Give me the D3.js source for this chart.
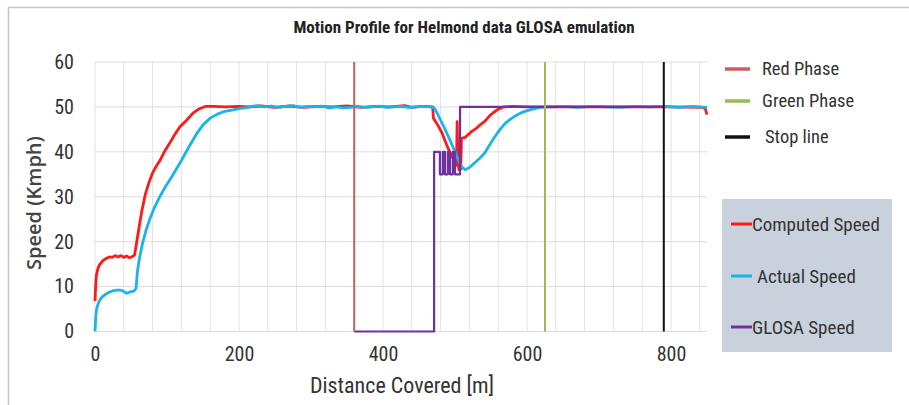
<!DOCTYPE html>
<html>
<head>
<meta charset="utf-8">
<script src="https://cdn.jsdelivr.net/npm/d3@7"></script>
<style>
  body { margin: 0; background: #fff; }
  svg { display: block; }
  .narrow { font-family: "Liberation Sans Narrow", "Arial Narrow", "Roboto Condensed", sans-serif; }
</style>
</head>
<body>
<svg id="chart" width="909" height="405"></svg>
<script>
// Computed speed (red)
const computedDist = [0, 1, 2, 4, 6, 9, 12, 16, 20, 24, 28, 32, 36, 40, 44, 48, 52, 55, 58, 61, 65, 70, 75, 80, 85, 90, 97, 104, 111, 118, 127, 136, 145, 153, 165, 180, 200, 215, 230, 250, 270, 290, 310, 330, 350, 370, 390, 410, 430, 440, 455, 469, 470, 476, 482, 488.5, 495, 502, 503, 504, 505.5, 508, 509, 514, 518, 523, 530, 535, 542, 548, 553, 560, 567, 580, 600, 650, 700, 750, 800, 845, 848, 850];
const computedSpeed = [6.8, 10.5, 12.6, 14.0, 14.8, 15.4, 15.9, 16.3, 16.6, 16.5, 16.9, 16.6, 16.9, 16.5, 16.8, 16.4, 16.7, 17.0, 20.0, 23.0, 26.8, 30.6, 33.2, 35.3, 36.8, 38.0, 40.2, 42.0, 43.9, 45.6, 47.0, 48.6, 49.6, 50.1, 50.1, 50.0, 50.1, 50.0, 50.2, 49.9, 50.2, 49.9, 50.1, 50.0, 50.2, 49.9, 50.1, 50.0, 50.3, 49.9, 50.1, 50.0, 47.5, 46.0, 44.2, 41.5, 39.2, 37.0, 46.7, 38.0, 36.0, 36.2, 43.0, 43.2, 43.8, 44.5, 45.3, 46.0, 46.9, 48.0, 48.7, 49.5, 50.0, 50.1, 50.0, 50.0, 50.0, 50.0, 50.0, 49.9, 49.4, 48.3];

// Actual speed (blue)
const actualDist = [0, 1, 2, 4, 7, 10, 14, 18, 22, 26, 30, 34, 38, 41, 44, 47, 50, 54, 57, 59, 62, 66, 71, 76, 82, 90, 98, 106, 118, 128, 141, 150, 160, 170, 180, 190, 200, 212, 225, 235, 245, 255, 265, 275, 285, 295, 305, 315, 325, 335, 345, 355, 365, 375, 385, 395, 405, 415, 425, 435, 445, 455, 465, 471, 476, 481, 486, 491, 496, 500, 505, 509, 514, 520, 527, 534, 541, 548, 555, 562, 570, 578, 586, 595, 605, 618, 630, 650, 670, 690, 710, 730, 750, 770, 790, 810, 830, 850];
const actualSpeed = [0, 3.2, 4.8, 6.0, 7.1, 7.7, 8.2, 8.6, 8.9, 9.1, 9.2, 9.2, 9.1, 8.8, 8.5, 8.7, 8.9, 9.0, 9.6, 13.5, 16.5, 19.6, 22.6, 25.0, 27.4, 30.0, 32.3, 34.3, 37.5, 40.4, 44.0, 46.0, 47.5, 48.4, 49.0, 49.3, 49.6, 49.9, 50.3, 50.0, 50.2, 49.9, 50.1, 50.3, 49.9, 50.1, 50.0, 50.2, 49.8, 50.0, 49.8, 49.9, 50.1, 49.9, 50.0, 50.2, 49.9, 50.0, 50.1, 49.9, 50.0, 50.1, 50.0, 49.8, 48.4, 46.7, 45.1, 43.3, 41.5, 40.0, 38.1, 36.7, 36.0, 36.5, 37.5, 38.5, 39.7, 41.5, 43.3, 44.9, 46.4, 47.4, 48.2, 48.9, 49.4, 49.9, 50.0, 50.1, 49.9, 50.1, 50.0, 49.9, 50.1, 50.0, 50.1, 49.9, 50.1, 49.9];

// GLOSA advised speed (purple)
const glosaDist = [360, 471, 471, 479, 479, 483, 483, 486, 486, 490, 490, 493, 493, 497, 497, 500, 500, 507, 507, 790];
const glosaSpeed = [0, 0, 40, 40, 35, 35, 40, 40, 35, 35, 40, 40, 35, 35, 40, 40, 35, 35, 50, 50];

// vertical markers
const phaseNames = ["Red Phase", "Green Phase", "Stop line"];
const phaseDist = [360, 625, 790];
const phaseColors = ["#c9605d", "#9bbb59", "#111111"];

const speedNames = ["Computed Speed", "Actual Speed", "GLOSA Speed"];
const speedColors = ["#ff1a1a", "#19b4ec", "#7030a0"];

const xTicks = [0, 200, 400, 600, 800];
const yTicks = [0, 10, 20, 30, 40, 50, 60];

const svg = d3.select("#chart"),
    margin = { top: 62, right: 202, bottom: 73.5, left: 95 },
    width = +svg.attr("width") - margin.left - margin.right,
    height = +svg.attr("height") - margin.top - margin.bottom;

// outer frame (left and top edges are visible)
svg.append("path")
    .attr("d", "M8.5,405V7.5H909")
    .attr("fill", "none")
    .attr("stroke", "#c4c4c4")
    .attr("stroke-width", 1.5);

svg.append("text")
    .attr("class", "narrow")
    .attr("x", 464)
    .attr("y", 33)
    .attr("text-anchor", "middle")
    .style("font-size", "17px")
    .style("font-weight", "bold")
    .style("fill", "#222")
    .text("Motion Profile for Helmond data GLOSA emulation");

const g = svg.append("g")
    .attr("transform", `translate(${margin.left},${margin.top})`);

const x = d3.scaleLinear().domain([0, 850]).range([0, width]);
const y = d3.scaleLinear().domain([0, 60]).range([height, 0]);

// gridlines
g.append("g")
    .selectAll("line")
    .data(d3.range(0, 851, 40))
    .enter().append("line")
    .attr("x1", d => x(d)).attr("x2", d => x(d))
    .attr("y1", 0).attr("y2", height)
    .attr("stroke", "#e3e3e3");

g.append("g")
    .selectAll("line")
    .data(yTicks)
    .enter().append("line")
    .attr("x1", 0).attr("x2", width)
    .attr("y1", d => y(d)).attr("y2", d => y(d))
    .attr("stroke", "#dcdcdc");

// axes (labels only, Excel style)
const xAxis = g.append("g")
    .attr("transform", `translate(0,${height})`)
    .call(d3.axisBottom(x).tickValues(xTicks).tickSize(0).tickPadding(15));
xAxis.select(".domain").remove();
xAxis.selectAll("text")
    .attr("class", "narrow")
    .style("font-size", "20px")
    .style("fill", "#333");

const yAxis = g.append("g")
    .call(d3.axisLeft(y).tickValues(yTicks).tickSize(0).tickPadding(21));
yAxis.select(".domain").remove();
yAxis.selectAll("text")
    .attr("class", "narrow")
    .style("font-size", "20px")
    .style("fill", "#333");

svg.append("text")
    .attr("class", "narrow")
    .attr("x", 402)
    .attr("y", 393)
    .attr("text-anchor", "middle")
    .style("font-size", "22px")
    .style("fill", "#333")
    .text("Distance Covered [m]");

svg.append("text")
    .attr("transform", "translate(41,203) rotate(-90)")
    .attr("text-anchor", "middle")
    .style("font-family", "'Open Sans', sans-serif")
    .style("font-size", "20px")
    .style("font-weight", "600")
    .style("fill", "#444")
    .text("Speed (Kmph)");

// speed series
const line = d3.line()
    .x(d => x(d[0]))
    .y(d => y(d[1]));

const series = [
    { dist: computedDist, speed: computedSpeed, width: 2.8 },
    { dist: actualDist, speed: actualSpeed, width: 2.8 },
    { dist: glosaDist, speed: glosaSpeed, width: 2.2 }
];

series.forEach((s, i) => {
    g.append("path")
        .datum(s.dist.map((d, j) => [d, s.speed[j]]))
        .attr("d", line)
        .attr("fill", "none")
        .attr("stroke", speedColors[i])
        .attr("stroke-width", s.width)
        .attr("stroke-linejoin", "round");
});

// phase markers
g.selectAll(".phase")
    .data(phaseDist)
    .enter().append("line")
    .attr("class", "phase")
    .attr("x1", d => x(d)).attr("x2", d => x(d))
    .attr("y1", y(0)).attr("y2", y(60))
    .attr("stroke", (d, i) => phaseColors[i])
    .attr("stroke-width", 2);

// legend: phases
const phaseLegendY = [69, 101, 137];
const phaseTextX = [762, 762, 765];
phaseNames.forEach((name, i) => {
    svg.append("line")
        .attr("x1", 725).attr("x2", 750)
        .attr("y1", phaseLegendY[i]).attr("y2", phaseLegendY[i])
        .attr("stroke", phaseColors[i])
        .attr("stroke-width", 3.5);
    svg.append("text")
        .attr("class", "narrow")
        .attr("x", phaseTextX[i])
        .attr("y", phaseLegendY[i])
        .attr("dy", "0.35em")
        .style("font-size", "18.5px")
        .style("fill", "#333")
        .text(name);
});

// legend: speeds in shaded box
svg.append("rect")
    .attr("x", 722).attr("y", 199)
    .attr("width", 170).attr("height", 153)
    .attr("fill", "#c9d1dd");

const speedLegendY = [224, 276, 327];
const speedTextX = [752, 757, 752];
speedNames.forEach((name, i) => {
    svg.append("line")
        .attr("x1", 731).attr("x2", 752)
        .attr("y1", speedLegendY[i]).attr("y2", speedLegendY[i])
        .attr("stroke", speedColors[i])
        .attr("stroke-width", 3);
    svg.append("text")
        .attr("class", "narrow")
        .attr("x", speedTextX[i])
        .attr("y", speedLegendY[i])
        .attr("dy", "0.35em")
        .style("font-size", "19px")
        .style("fill", "#333")
        .text(name);
});
</script>
</body>
</html>
